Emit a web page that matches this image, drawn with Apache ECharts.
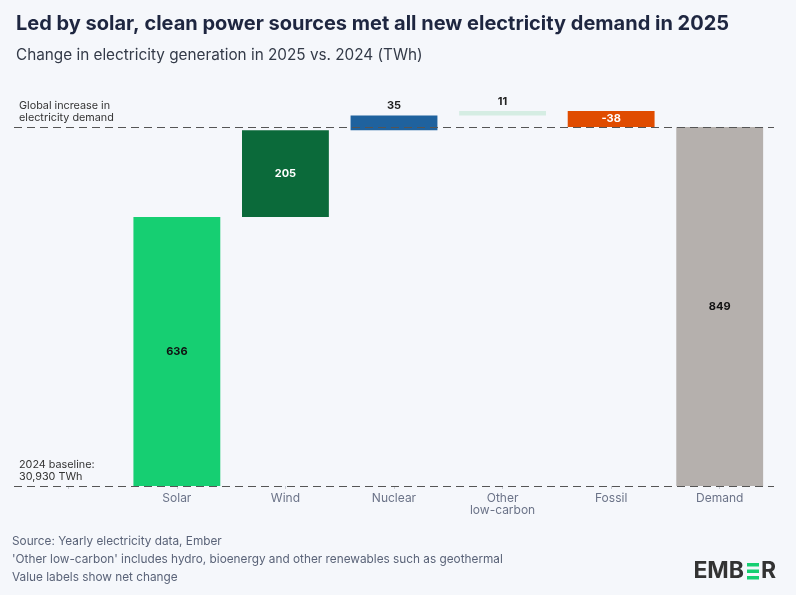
<!DOCTYPE html>
<html>
<head>
<meta charset="utf-8">
<script src="https://cdn.jsdelivr.net/npm/echarts@6/dist/echarts.min.js"></script>
<style>
  html, body { margin: 0; padding: 0; background: #f5f7fb; }
  #main { width: 796px; height: 595px; }
</style>
</head>
<body>
<div id="main"></div>
<script>
// 数据
var categories = ['', 'Solar', 'Wind', 'Nuclear', 'Other\nlow-carbon', 'Fossil', 'Demand'];
var changes = [636, 205, 35, 11, -38];   // Solar .. Fossil
var demand = 849;
var barColors = ['#16cf72', '#0b6a3a', '#1f629e', '#d5ede3', '#e04c00', '#b5b0ad'];
var labelPos = ['inside', 'inside', 'top', 'top', 'inside', 'inside'];
var labelColors = ['#111', '#fff', '#222', '#222', '#fff', '#111'];
var baselineText = '2024 baseline:\n30,930 TWh';
var demandText = 'Global increase in\nelectricity demand';

// 瀑布图：透明底座 + 可见部分
var baseData = ['-'];
var valueData = ['-'];
var running = 0;
changes.forEach(function (v, i) {
    var lo = v >= 0 ? running : running + v;
    baseData.push(lo);
    valueData.push({
        value: Math.abs(v),
        raw: v,
        itemStyle: { color: barColors[i] },
        label: { position: labelPos[i], color: labelColors[i] }
    });
    running += v;
});
baseData.push(0);
valueData.push({
    value: demand,
    raw: demand,
    itemStyle: { color: barColors[5] },
    label: { position: labelPos[5], color: labelColors[5] }
});

var myChart = echarts.init(document.getElementById('main'));
var font = 'Inter, "Noto Sans", sans-serif';
option = {
    backgroundColor: '#f5f7fb',
    textStyle: { fontFamily: font },
    title: [{
        text: 'Led by solar, clean power sources met all new electricity demand in 2025',
        left: 11,
        top: 9,
        textStyle: { fontSize: 20, fontWeight: 'bold', color: '#1e2640', fontFamily: font }
    }, {
        text: 'Change in electricity generation in 2025 vs. 2024 (TWh)',
        left: 11,
        top: 43,
        textStyle: { fontSize: 15.3, fontWeight: 'normal', color: '#333a48', fontFamily: font }
    }],
    grid: { left: 14, right: 22, top: 105.4, bottom: 109 },
    xAxis: {
        type: 'category',
        data: categories,
        axisLine: { show: false },
        axisTick: { show: true, alignWithLabel: true, length: 3, lineStyle: { color: '#c8ccd4' } },
        axisLabel: { color: '#6b7388', fontSize: 12, margin: 6, lineHeight: 12, interval: 0 }
    },
    yAxis: {
        type: 'value',
        min: 0,
        max: 900,
        show: false,
        splitLine: { show: false }
    },
    series: [{
        type: 'bar',
        stack: 'wf',
        data: baseData,
        barCategoryGap: '20%',
        itemStyle: { color: 'transparent' },
        silent: true,
        markLine: {
            symbol: 'none',
            silent: true,
            z: 10,
            lineStyle: { type: [8, 5], color: '#555', width: 1 },
            label: {
                position: 'insideStartTop',
                distance: [5, 3],
                color: '#333',
                fontSize: 10.8,
                lineHeight: 12,
                formatter: function (p) { return p.data.text; }
            },
            data: [
                { yAxis: demand, text: demandText },
                { yAxis: 0, text: baselineText }
            ]
        }
    }, {
        type: 'bar',
        stack: 'wf',
        data: valueData,
        barCategoryGap: '20%',
        label: {
            show: true,
            fontSize: 11,
            fontWeight: 'bold',
            distance: 4,
            formatter: function (p) { return p.data.raw; }
        }
    }],
    graphic: [
        { type: 'text', left: 12, top: 535, style: { text: 'Source: Yearly electricity data, Ember', fill: '#5a6378', fontSize: 11.8, fontFamily: font } },
        { type: 'text', left: 12, top: 553, style: { text: "'Other low-carbon' includes hydro, bioenergy and other renewables such as geothermal", fill: '#5a6378', fontSize: 11.8, fontFamily: font } },
        { type: 'text', left: 12, top: 571, style: { text: 'Value labels show net change', fill: '#5a6378', fontSize: 11.8, fontFamily: font } },
        // EMBER 标志
        { type: 'text', x: 744, y: 571, style: { text: 'EMB', fill: '#333', fontSize: 23, fontWeight: 'bold', fontFamily: font, align: 'right', verticalAlign: 'middle' } },
        { type: 'rect', shape: { x: 747, y: 563, width: 12, height: 3.5 }, style: { fill: '#16cf72' } },
        { type: 'rect', shape: { x: 747, y: 569.5, width: 12, height: 3.5 }, style: { fill: '#16cf72' } },
        { type: 'rect', shape: { x: 747, y: 576, width: 12, height: 3.5 }, style: { fill: '#16cf72' } },
        { type: 'text', x: 761, y: 571, style: { text: 'R', fill: '#333', fontSize: 23, fontWeight: 'bold', fontFamily: font, align: 'left', verticalAlign: 'middle' } }
    ]
};

myChart.setOption(option);
</script>
</body>
</html>
